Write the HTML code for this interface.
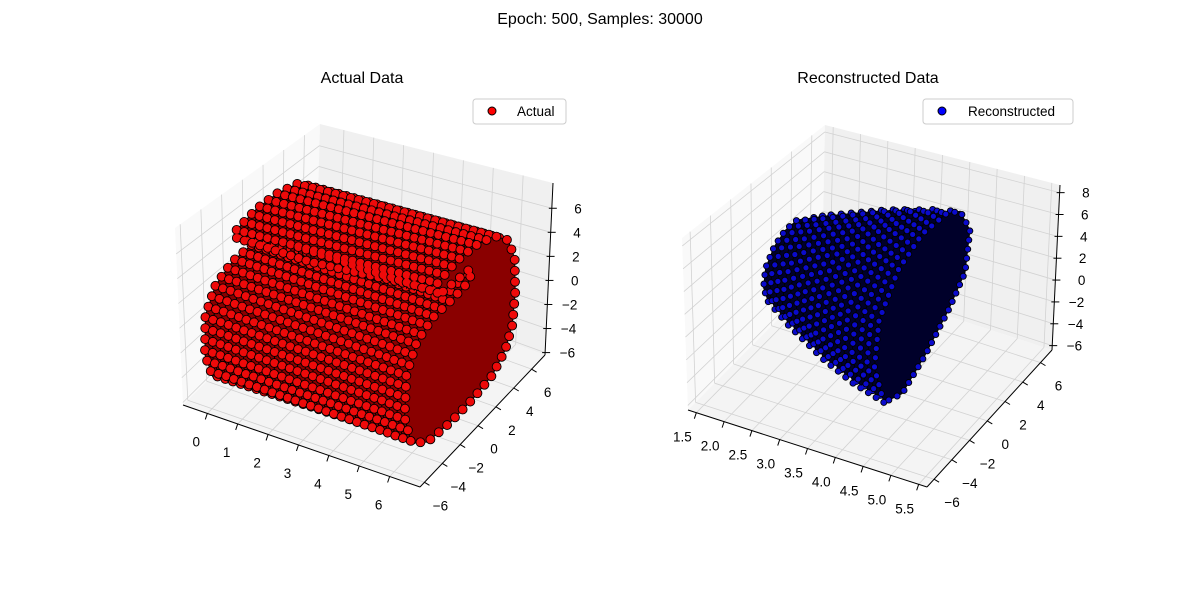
<!DOCTYPE html>
<html><head><meta charset="utf-8">
<style>
html,body{margin:0;padding:0;background:#fff;}
svg{display:block;font-family:"Liberation Sans","DejaVu Sans",sans-serif;}
</style></head>
<body>
<svg id="fig" width="1200" height="600" viewBox="0 0 1200 600" xmlns="http://www.w3.org/2000/svg">
<text x="600" y="24" text-anchor="middle" font-size="16">Epoch: 500, Samples: 30000</text>
<text x="362" y="83" text-anchor="middle" font-size="16">Actual Data</text>
<text x="868" y="83" text-anchor="middle" font-size="16">Reconstructed Data</text>
<g id="left"></g>
<g id="right"></g>
<g>
<rect x="473" y="99" width="93" height="25" rx="3" fill="#fff" fill-opacity="0.8" stroke="#ccc"/>
<circle cx="492" cy="111" r="4" fill="#ff0000" stroke="#000"/>
<text x="517" y="116" font-size="13.5">Actual</text>
</g>
<g>
<rect x="923" y="99" width="150" height="25" rx="3" fill="#fff" fill-opacity="0.8" stroke="#ccc"/>
<circle cx="942" cy="111" r="4" fill="#0000ff" stroke="#000"/>
<text x="968" y="116" font-size="13.5">Reconstructed</text>
</g>
</svg>
<script>
// ---- data (Actual) ----
const actualSliceX = [0,0.25,0.5,0.75,1,1.25,1.5,1.75,2,2.25,2.5,2.75,3,3.25,3.5,3.75,4,4.25,4.5,4.75,5,5.25,5.5,5.75,6,6.25,6.5];
const actualSliceScale = [1,1,1,1,1,1,1,1,1,1,1,1,1,1,1,1,1,1,1,1,1,1,1,1,1,1,1];
const actualCrossY = [-3,-1,1,3,4.5,5.3,5.5,5.3,4.6,3.2,1,-1.5,-4,-5.8,-6.5,-6.3,-5.2,-3.5,-1.5,0.5,0.5,-1.5,-3];
const actualCrossZ = [6.3,6.8,6.8,6.3,5,3,0,-2.5,-4,-5,-5.3,-5.3,-5,-3.8,-1.5,1.5,3.2,4,4.1,4.4,5.3,5.3,5.3];
// ---- data (Reconstructed) ----
const reconSliceX = [2.1,2.25,2.4,2.55,2.7,2.85,3.0,3.15,3.3,3.45,3.6,3.75,3.9,4.05,4.2,4.35,4.5];
const reconSliceScale = [0.45,0.5,0.55,0.6,0.64,0.68,0.72,0.76,0.8,0.83,0.86,0.89,0.92,0.94,0.96,0.98,1.0];
const reconCrossY = [-4.5,-5.5,-5,-3,-0.5,2,3.5,4.6,4.2,2.5,0,-2.5];
const reconCrossZ = [-3,0.5,4,6.8,8.2,8.3,7.5,5,1.5,-0.5,-2.5,-3.8];
// ---- ticks ----
const actualXTicks = [0,1,2,3,4,5,6];
const actualYTicks = [-6,-4,-2,0,2,4,6];
const actualZTicks = [-6,-4,-2,0,2,4,6];
const reconXTicks = [1.5,2.0,2.5,3.0,3.5,4.0,4.5,5.0,5.5];
const reconYTicks = [-6,-4,-2,0,2,4,6];
const reconZTicks = [-6,-4,-2,0,2,4,6,8];

const NS="http://www.w3.org/2000/svg";
function mk(tag,parent){const e=document.createElementNS(NS,tag);parent.appendChild(e);return e;}
function lerp(a,b,t){return [a[0]+(b[0]-a[0])*t,a[1]+(b[1]-a[1])*t];}

function panel(g,cfg){
  const C=cfg.corners;
  function P(u,v,w){
    const bo=lerp(lerp(C.L,C.F,u),lerp(C.B,C.R,u),v);
    const tp=lerp(lerp(C.Lt,C.Ft,u),lerp(C.Bt,C.Rt,u),v);
    return lerp(bo,tp,w);
  }
  const ux=x=>(x-cfg.xr[0])/(cfg.xr[1]-cfg.xr[0]);
  const vy=y=>(y-cfg.yr[0])/(cfg.yr[1]-cfg.yr[0]);
  const wz=z=>(z-cfg.zr[0])/(cfg.zr[1]-cfg.zr[0]);
  const proj=(x,y,z)=>P(ux(x),vy(y),wz(z));
  const pts=a=>a.map(p=>p[0].toFixed(1)+','+p[1].toFixed(1)).join(' ');
  function line(a,b,col,w,name){
    const l=mk('line',g);
    l.setAttribute('x1',a[0]);l.setAttribute('y1',a[1]);l.setAttribute('x2',b[0]);l.setAttribute('y2',b[1]);
    l.setAttribute('stroke',col);l.setAttribute('stroke-width',w);
    
    
  }
  const pl=mk('polygon',g);pl.setAttribute('points',pts([P(0,0,0),P(0,1,0),P(0,1,1),P(0,0,1)]));pl.setAttribute('fill','#f9f9f9');
  
  
  const pb=mk('polygon',g);pb.setAttribute('points',pts([P(0,1,0),P(1,1,0),P(1,1,1),P(0,1,1)]));pb.setAttribute('fill','#f0f0f0');
  
  
  const pf=mk('polygon',g);pf.setAttribute('points',pts([P(0,0,0),P(1,0,0),P(1,1,0),P(0,1,0)]));pf.setAttribute('fill','#f4f4f4');
  
  
  const gc='#d2d2d2';
  cfg.xt.forEach(t=>{const u=ux(t);line(P(u,1,0),P(u,1,1),gc,0.8,'grid-x');line(P(u,0,0),P(u,1,0),gc,0.8,'grid-x');});
  cfg.yt.forEach(t=>{const v=vy(t);line(P(0,v,0),P(0,v,1),gc,0.8,'grid-y');line(P(0,v,0),P(1,v,0),gc,0.8,'grid-y');});
  cfg.zt.forEach(t=>{const w=wz(t);line(P(0,0,w),P(0,1,w),gc,0.8,'grid-z');line(P(0,1,w),P(1,1,w),gc,0.8,'grid-z');});
  line(P(0,0,0),P(1,0,0),'#000',1,'x-axis-line');
  line(P(1,0,0),P(1,1,0),'#000',1,'y-axis-line');
  line(P(1,1,0),P(1,1,1),'#000',1,'z-axis-line');
  cfg.xt.forEach(t=>{const p=P(ux(t),0,0);line(p,[p[0]-2,p[1]+6],'#000',1,'x-tick');
    const tx=mk('text',g);tx.setAttribute('x',p[0]+cfg.xo[0]);tx.setAttribute('y',p[1]+cfg.xo[1]);tx.setAttribute('text-anchor','middle');tx.setAttribute('font-size','13.5');
    tx.textContent=cfg.xfmt(t);
    
    });
  cfg.yt.forEach(t=>{const p=P(1,vy(t),0);line(p,[p[0]+5,p[1]+3],'#000',1,'y-tick');
    const tx=mk('text',g);tx.setAttribute('x',p[0]+cfg.yo[0]);tx.setAttribute('y',p[1]+cfg.yo[1]);tx.setAttribute('text-anchor','middle');tx.setAttribute('font-size','13.5');
    tx.textContent=String(t).replace('-','\u2212');
    
    });
  cfg.zt.forEach(t=>{const p=P(1,1,wz(t));line([p[0]-3,p[1]],[p[0]+5,p[1]],'#000',1,'z-tick');
    const tx=mk('text',g);tx.setAttribute('x',p[0]+cfg.zo);tx.setAttribute('y',p[1]+5);tx.setAttribute('text-anchor','end');tx.setAttribute('font-size','13.5');
    tx.textContent=String(t).replace('-','\u2212');
    
    });
  const sg=mk('g',g);
  
  
  cfg.sx.forEach((x,k)=>{
    const s=cfg.ss[k];
    const poly=cfg.cy.map((y,i)=>proj(x,cfg.c0[0]+(y-cfg.c0[0])*s,cfg.c0[1]+(cfg.cz[i]-cfg.c0[1])*s));
    const d='M'+poly.map(p=>p[0].toFixed(1)+' '+p[1].toFixed(1)).join(' L')+' Z';
    const f=mk('path',sg);f.setAttribute('d',d);f.setAttribute('fill',cfg.fill);f.setAttribute('stroke','#000');f.setAttribute('stroke-width','1');
    
    
    const o=mk('path',sg);o.setAttribute('d',d);o.setAttribute('fill','none');o.setAttribute('stroke','#000');
    o.setAttribute('stroke-width',cfg.r*2+1.8);o.setAttribute('stroke-linecap','round');o.setAttribute('stroke-dasharray','0 '+(cfg.r*2+cfg.gap));
    
    
    const c=mk('path',sg);c.setAttribute('d',d);c.setAttribute('fill','none');c.setAttribute('stroke',cfg.color);
    c.setAttribute('stroke-width',cfg.r*2);c.setAttribute('stroke-linecap','round');c.setAttribute('stroke-dasharray','0 '+(cfg.r*2+cfg.gap));
    
    
  });
}

panel(document.getElementById('left'),{
  name:'actual',
  corners:{L:[183,405],F:[420,487],R:[545,355],B:[316,272],Lt:[175,228],Ft:[420,290],Rt:[553,183],Bt:[320,124]},
  xr:[-0.8,7.0],yr:[-6.5,7.5],zr:[-6.2,8.1],
  xt:actualXTicks,yt:actualYTicks,zt:actualZTicks,
  xfmt:t=>String(t),xo:[-11,33],yo:[16,28],zo:30,
  sx:actualSliceX,ss:actualSliceScale,c0:[0,0],cy:actualCrossY,cz:actualCrossZ,fill:'#8a0000',color:'#ee0a0a',r:4,gap:3
});
panel(document.getElementById('right'),{
  name:'reconstructed',
  corners:{L:[688,410],F:[927,487],R:[1052,350],B:[822,275],Lt:[682,238],Ft:[927,290],Rt:[1060,185],Bt:[825,125]},
  xr:[1.35,5.65],yr:[-6.8,7.3],zr:[-6.4,8.7],
  xt:reconXTicks,yt:reconYTicks,zt:reconZTicks,
  xfmt:t=>t.toFixed(1),xo:[-14,29],yo:[18,28],zo:30,
  sx:reconSliceX,ss:reconSliceScale,c0:[-1,4],cy:reconCrossY,cz:reconCrossZ,fill:'#00002a',color:'#0a0acc',r:2.6,gap:4
});
</script>
</body></html>
